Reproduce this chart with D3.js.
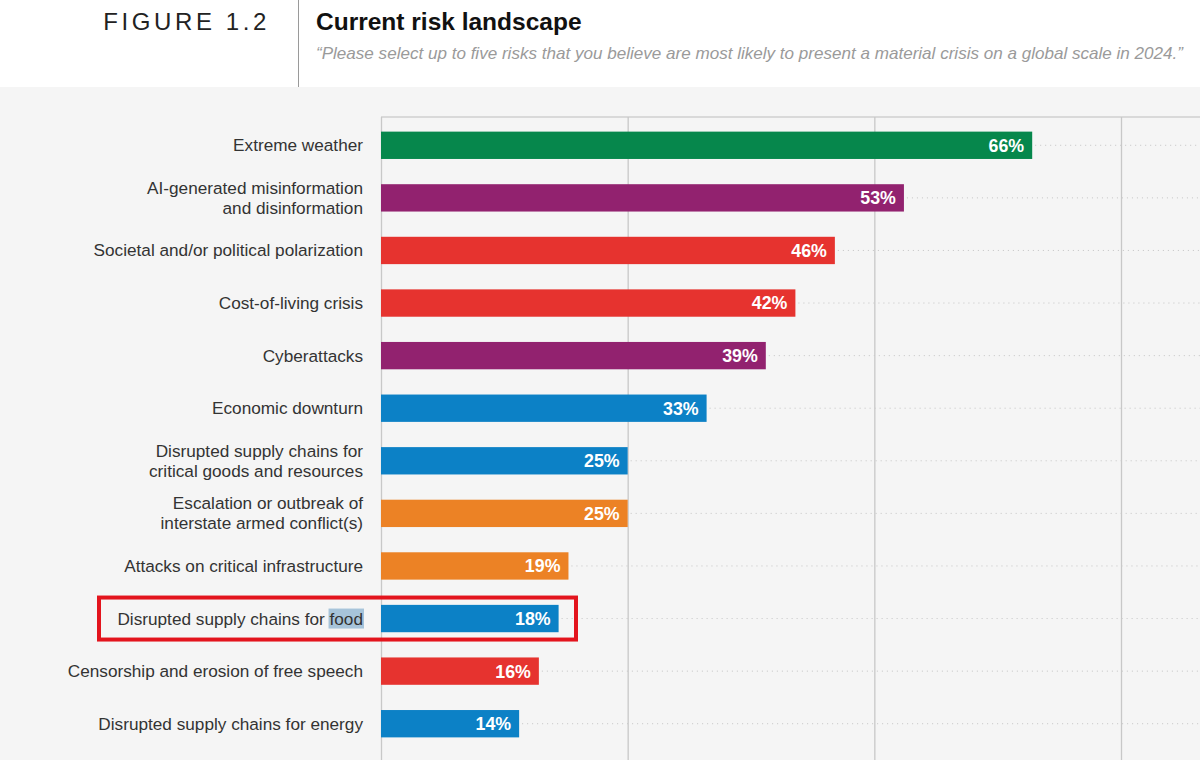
<!DOCTYPE html>
<html><head><meta charset="utf-8">
<script src="https://cdn.jsdelivr.net/npm/d3@7"></script>
<style>
html,body{margin:0;padding:0;background:#fff;}
svg{display:block;font-family:"Liberation Sans",Arial,Helvetica,sans-serif;}
</style></head>
<body>
<svg id="chart" width="1200" height="760"></svg>
<script>
const categories = [
  "Extreme weather",
  "AI-generated misinformation|and disinformation",
  "Societal and/or political polarization",
  "Cost-of-living crisis",
  "Cyberattacks",
  "Economic downturn",
  "Disrupted supply chains for|critical goods and resources",
  "Escalation or outbreak of|interstate armed conflict(s)",
  "Attacks on critical infrastructure",
  "Disrupted supply chains for food",
  "Censorship and erosion of free speech",
  "Disrupted supply chains for energy"
];
const values = [66, 53, 46, 42, 39, 33, 25, 25, 19, 18, 16, 14];
const groups = ["environmental","technological","societal","societal","technological","economic","economic","geopolitical","geopolitical","economic","societal","economic"];
const groupNames = ["environmental","technological","societal","economic","geopolitical"];
const groupColors = ["#06874c","#92226f","#e6332f","#0c81c6","#ec8225"];
const gridTicks = [0, 25, 50, 75];
const highlighted = "Disrupted supply chains for food";

const svg = d3.select("#chart");
const W = 1200, H = 760;

// header
svg.append("rect").attr("x",0).attr("y",0).attr("width",W).attr("height",87).attr("fill","#ffffff");
svg.append("rect").attr("x",0).attr("y",87).attr("width",W).attr("height",H-87).attr("fill","#f5f5f5");
svg.append("line").attr("x1",298.5).attr("x2",298.5).attr("y1",0).attr("y2",87).attr("stroke","#9a9a9a").attr("stroke-width",1);
svg.append("text").attr("x",270).attr("y",30).attr("text-anchor","end")
  .attr("font-size",24).attr("letter-spacing","3.6px").attr("fill","#222").attr("font-weight",300)
  .text("FIGURE 1.2");
svg.append("text").attr("x",316).attr("y",30).attr("font-size",24.5).attr("font-weight","bold").attr("fill","#111")
  .text("Current risk landscape");
svg.append("text").attr("x",316).attr("y",59).attr("font-size",16.5).attr("font-style","italic").attr("fill","#9a9a9a")
  .attr("textLength",867).attr("lengthAdjust","spacingAndGlyphs")
  .text("\u201cPlease select up to five risks that you believe are most likely to present a material crisis on a global scale in 2024.\u201d");

const x = d3.scaleLinear().domain([0, 75]).range([381, 1121]);
const y = d3.scaleBand().domain(categories).range([119, 750]).paddingInner(0.48).paddingOuter(0.24);
const color = d3.scaleOrdinal().domain(groupNames).range(groupColors);

const plotTop = 117, plotBottom = 760;

// top border
svg.append("line").attr("x1",x(0)).attr("x2",W).attr("y1",plotTop).attr("y2",plotTop)
  .attr("stroke","#cfcfcf").attr("stroke-width",1.5);

// dotted leader lines
const data = categories.map((c,i)=>({c, v: values[i], g: groups[i]}));
svg.append("g").selectAll("line").data(data).join("line")
  .attr("x1", d => x(d.v) + 3).attr("x2", W)
  .attr("y1", d => y(d.c) + y.bandwidth()/2).attr("y2", d => y(d.c) + y.bandwidth()/2)
  .attr("stroke","#c4c4c4").attr("stroke-width",1).attr("stroke-dasharray","1,4");

// vertical gridlines via axis
const gridAxis = d3.axisBottom(x).tickValues(gridTicks).tickSize(plotBottom - plotTop).tickFormat("");
const gg = svg.append("g").attr("transform",`translate(0,${plotTop})`).call(gridAxis);
gg.select(".domain").remove();
gg.selectAll(".tick line").attr("stroke","#c8c8c8").attr("stroke-width",1.3);

// bars
svg.append("g").selectAll("rect").data(data).join("rect")
  .attr("x", x(0)).attr("y", d => y(d.c))
  .attr("width", d => x(d.v) - x(0)).attr("height", y.bandwidth())
  .attr("fill", d => color(d.g));

// value labels
svg.append("g").selectAll("text").data(data).join("text")
  .attr("x", d => x(d.v) - 8).attr("y", d => y(d.c) + y.bandwidth()/2)
  .attr("dy","0.36em").attr("text-anchor","end")
  .attr("font-size",17.8).attr("font-weight","bold").attr("fill","#fff")
  .text(d => d.v + "%");

// category labels
const lab = svg.append("g").selectAll("text").data(data).join("text")
  .attr("x", 363).attr("text-anchor","end").attr("font-size",17.2).attr("fill","#333");
lab.each(function(d){
  const parts = d.c.split("|");
  const cy = y(d.c) + y.bandwidth()/2;
  const t = d3.select(this);
  parts.forEach((p,i)=>{
    const off = parts.length === 1 ? 0 : (i === 0 ? -10 : 10);
    t.append("tspan").attr("x",363).attr("y", cy + off).attr("dy","0.35em").text(p);
  });
});

// highlight selection on "food" and red box
const hy = y(highlighted) + y.bandwidth()/2;
const hl = lab.filter(d => d.c === highlighted);
const node = hl.node();
const foodW = (function(){
  const tmp = svg.append("text").attr("font-size",17.2).text("food");
  const w = tmp.node().getComputedTextLength(); tmp.remove(); return w;
})();
svg.insert("rect", () => node.parentNode)
  .attr("x", 363 - foodW - 1).attr("y", hy - 10).attr("width", foodW + 2).attr("height", 20)
  .attr("fill","#a7c4da");
svg.append("rect").attr("x", 99).attr("y", hy - 21).attr("width", 477).attr("height", 42)
  .attr("fill","none").attr("stroke","#e3141d").attr("stroke-width",4);
</script>
</body></html>
